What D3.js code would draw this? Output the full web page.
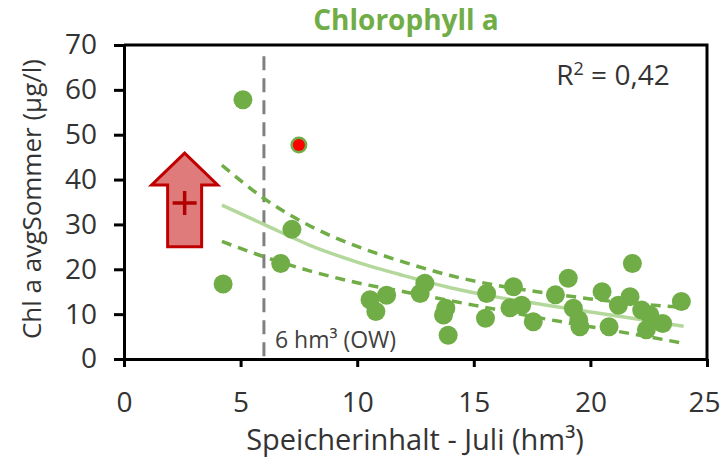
<!DOCTYPE html>
<html>
<head>
<meta charset="utf-8">
<script src="https://cdn.jsdelivr.net/npm/d3@7"></script>
<style>
  body { margin: 0; background: #fff; }
  text { font-family: "Open Sans", sans-serif; }
</style>
</head>
<body>
<div class="chart"></div>
<script>
// data
const storage = [5.1, 7.5, 4.25, 7.2, 6.72, 10.55, 10.8, 11.26, 12.9, 12.7, 13.8, 13.7, 13.9, 15.55, 15.5,
    16.7, 17.05, 16.55, 17.55, 18.5, 19.05, 19.27, 19.55, 19.5, 20.5, 20.8, 21.2, 21.8, 21.7, 22.2,
    22.55, 22.4, 23.1, 23.9];
const chla = [57.8, 47.7, 16.7, 28.9, 21.3, 13.2, 10.6, 14.2, 16.9, 14.6, 11.3, 9.8, 5.3, 14.6, 9.1,
    16.1, 12.0, 11.4, 8.3, 14.3, 18.0, 11.3, 7.2, 8.7, 15.0, 7.2, 12.0, 21.3, 13.9, 10.9,
    9.8, 6.5, 7.9, 12.8];
const outlierIndex = 1; // red-marked point

const fitX = [4.2, 6, 8, 10, 12, 14, 16, 18, 20, 22, 24];
const fitY = [34.3, 30.0, 25.3, 21.6, 18.6, 15.9, 13.8, 12.1, 10.5, 8.9, 7.3];
const upperY = [43.2, 35.8, 29.6, 25.1, 21.6, 18.6, 16.4, 14.8, 13.4, 12.3, 11.5];
const lowerY = [26.2, 22.8, 19.6, 17.0, 15.0, 13.0, 11.0, 9.0, 7.2, 5.4, 3.5];

const meanX = 2.6, meanY = 34.8;
const arrowBottom = 25.0, arrowShoulder = 38.8, arrowTip = 45.9;
const threshold = 6;

const xTicks = [0, 5, 10, 15, 20, 25];
const yTicks = [0, 10, 20, 30, 40, 50, 60, 70];

const margin = ({top: 45, right: 15, bottom: 114, left: 124});
const width = 722 - margin.left - margin.right;
const height = 473 - margin.top - margin.bottom;
const green = '#70ad47';
const ink = '#333';

const svg = d3.select('.chart')
    .append('svg')
    .attr('width', 722)
    .attr('height', 473);

const g = svg.append('g')
    .attr('transform', `translate(${margin.left},${margin.top})`);

const xScale = d3.scaleLinear().domain([0, 25]).range([0, width]);
const yScale = d3.scaleLinear().domain([0, 70]).range([height, 0]);

// axes
const xAxis = d3.axisBottom(xScale).tickValues(xTicks).tickSize(8).tickSizeOuter(0).tickPadding(25);
const yAxis = d3.axisLeft(yScale).tickValues(yTicks).tickSize(10).tickSizeOuter(0).tickPadding(17);

g.append('g')
    .attr('transform', `translate(0,${height})`)
    .call(xAxis)
    .call(a => a.selectAll('line, path').attr('stroke', '#000').attr('stroke-width', 3))
    .call(a => a.selectAll('text').attr('font-size', 28).attr('fill', ink).attr('font-family', '"Open Sans", sans-serif'))
    .call(a => a.selectAll('.tick:last-of-type text').attr('dx', -3));

g.append('g')
    .call(yAxis)
    .call(a => a.selectAll('line, path').attr('stroke', '#000').attr('stroke-width', 3))
    .call(a => a.selectAll('text').attr('font-size', 28).attr('fill', ink).attr('font-family', '"Open Sans", sans-serif'));

// box top + right
g.append('path')
    .attr('d', `M0,0H${xScale(25)}V${yScale(0)}`)
    .attr('fill', 'none')
    .attr('stroke', '#000')
    .attr('stroke-width', 3);

// 6 hm3 threshold line
g.append('line')
    .attr('x1', xScale(threshold)).attr('x2', xScale(threshold))
    .attr('y1', yScale(67.5)).attr('y2', yScale(0))
    .attr('stroke', '#808080')
    .attr('stroke-width', 3)
    .attr('stroke-dasharray', '14,8');

g.append('text')
    .attr('x', xScale(threshold) + 11)
    .attr('y', yScale(0) - 11)
    .attr('font-size', 23)
    .attr('fill', '#404040')
    .text('6 hm³ (OW)');

// fit and confidence band
const line = (ys) => d3.line()
    .curve(d3.curveMonotoneX)
    .x((d, i) => xScale(fitX[i]))
    .y(d => yScale(d))(ys);

g.append('path')
    .attr('d', line(fitY))
    .attr('fill', 'none')
    .attr('stroke', '#b4d89b')
    .attr('stroke-width', 3.5);

[upperY, lowerY].forEach(ys => {
    g.append('path')
        .attr('d', line(ys))
        .attr('fill', 'none')
        .attr('stroke', green)
        .attr('stroke-width', 3.5)
        .attr('stroke-dasharray', '10,7');
});

// points
const points = storage.map((x, i) => ({x: x, y: chla[i], red: i === outlierIndex}));

g.selectAll('circle.pt')
    .data(points)
    .enter()
    .append('circle')
    .attr('class', 'pt')
    .attr('cx', d => xScale(d.x))
    .attr('cy', d => yScale(d.y))
    .attr('r', d => d.red ? 8.5 : 9.5)
    .attr('fill', green);

g.selectAll('circle.red')
    .data(points.filter(d => d.red))
    .enter()
    .append('circle')
    .attr('class', 'red')
    .attr('cx', d => xScale(d.x))
    .attr('cy', d => yScale(d.y))
    .attr('r', 6)
    .attr('fill', '#ff0000');

// red arrow with mean marker
const ax = xScale(meanX);
const shaft = 17, head = 33;
g.append('path')
    .attr('d', `M${ax},${yScale(arrowTip)}L${ax + head},${yScale(arrowShoulder)}L${ax + shaft},${yScale(arrowShoulder)}` +
        `L${ax + shaft},${yScale(arrowBottom)}L${ax - shaft},${yScale(arrowBottom)}L${ax - shaft},${yScale(arrowShoulder)}` +
        `L${ax - head},${yScale(arrowShoulder)}Z`)
    .attr('fill', '#e07b7b')
    .attr('stroke', '#c00000')
    .attr('stroke-width', 3)
    .attr('stroke-linejoin', 'miter');

const my = yScale(meanY);
g.append('path')
    .attr('d', `M${ax - 12},${my}H${ax + 12}M${ax},${my - 12}V${my + 12}`)
    .attr('stroke', '#b00000')
    .attr('stroke-width', 3.5);

// labels
g.append('text')
    .attr('x', xScale(23.4))
    .attr('y', 40)
    .attr('text-anchor', 'end')
    .attr('font-size', 28)
    .attr('fill', ink)
    .html('R<tspan dy="-10" font-size="18">2</tspan><tspan dy="10"> = 0,42</tspan>');

svg.append('text')
    .attr('x', 406)
    .attr('y', 30)
    .attr('text-anchor', 'middle')
    .attr('font-size', 28)
    .attr('font-weight', 'bold')
    .attr('fill', green)
    .text('Chlorophyll a');

svg.append('text')
    .attr('x', 415)
    .attr('y', 450)
    .attr('text-anchor', 'middle')
    .attr('font-size', 29)
    .attr('fill', ink)
    .text('Speicherinhalt - Juli (hm³)');

svg.append('text')
    .attr('transform', 'translate(41,199) rotate(-90)')
    .attr('text-anchor', 'middle')
    .attr('font-size', 26)
    .attr('fill', ink)
    .text('Chl a avgSommer (µg/l)');
</script>
</body>
</html>
